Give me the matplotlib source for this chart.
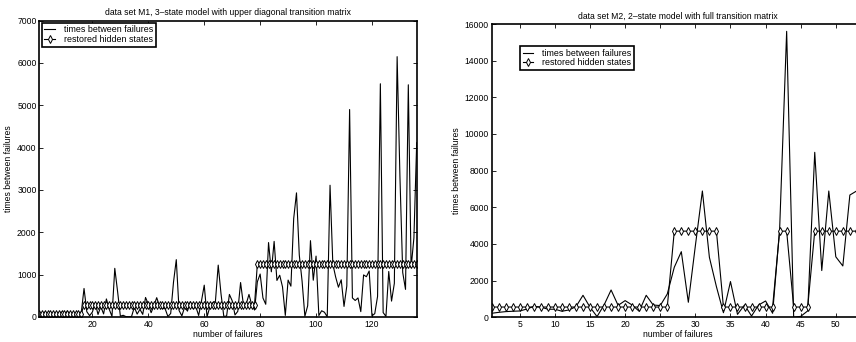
import numpy as np
import matplotlib
matplotlib.use("Agg")
import matplotlib.pyplot as plt
from matplotlib.ticker import FixedLocator

plt.rcParams['font.family'] = ['Liberation Sans', 'DejaVu Sans']

# Data set M1: times between failures and the restored hidden-state levels
m1_times = [3, 30, 113, 81, 115, 9, 2, 91, 112, 15, 138, 50, 77, 24, 108, 88,
            670, 120, 26, 114, 325, 55, 242, 68, 422, 180, 10, 1146, 600, 15,
            36, 4, 0, 8, 227, 65, 176, 58, 457, 300, 97, 263, 452, 255, 197,
            193, 6, 79, 816, 1351, 148, 21, 233, 134, 357, 193, 236, 31, 369,
            748, 0, 232, 330, 365, 1222, 543, 10, 16, 529, 379, 44, 129, 810,
            290, 300, 529, 281, 160, 828, 1011, 445, 296, 1755, 1064, 1783,
            860, 983, 707, 33, 868, 724, 2323, 2930, 1461, 843, 12, 261, 1800,
            865, 1435, 30, 143, 108, 0, 3110, 1247, 943, 700, 875, 245, 729,
            4900, 447, 386, 446, 122, 990, 948, 1082, 22, 75, 482, 5509, 100,
            10, 1071, 371, 790, 6150, 3321, 1045, 648, 5485, 1160, 1864, 4116]
m1_state_levels = [66, 290, 1250]
m1_state_lengths = [16, 62, 58]

# Data set M2: times between failures and the restored hidden-state levels
m2_times = [220, 270, 310, 330, 345, 450, 600, 560, 440, 440, 330, 400, 580,
            1200, 550, 40, 670, 1490, 650, 910, 670, 330, 1200, 670, 640,
            1270, 2730, 3580, 820, 3900, 6890, 3270, 1670, 250, 1950, 160,
            670, 70, 670, 890, 220, 4800, 15600, 0, 50, 350, 9000, 2550, 6890,
            3300, 2800, 6670, 6900]
m2_state_levels = [560, 4700, 560, 4700, 560, 4700]
m2_state_lengths = [26, 7, 8, 2, 3, 7]

m1_states = np.repeat(m1_state_levels, m1_state_lengths)
m2_states = np.repeat(m2_state_levels, m2_state_lengths)
m1_x = np.arange(1, len(m1_times) + 1)
m2_x = np.arange(1, len(m2_times) + 1)

W, H = 856, 342
fig = plt.figure(figsize=(W / 100, H / 100), dpi=100)

ax1 = fig.add_axes([39.3 / W, 1 - 316.8 / H, 377.4 / W, 296.1 / H])
ax2 = fig.add_axes([491.7 / W, 1 - 317.3 / H, 372.2 / W, 293.3 / H])

FS = 6.2
LFS = 6.4


def style(ax):
    ax.tick_params(direction='in', length=2.8, width=0.6, top=True,
                   right=True, labelsize=FS, pad=2)
    for s in ax.spines.values():
        s.set_linewidth(1.2)


def draw(ax, x, times, states, title, xlim, ylim, xticks, yticks, legend_anchor):
    ax.plot(x, times, color='black', lw=0.8, label='times between failures')
    ax.plot(x, states, color='black', lw=0.8, marker='d', ms=4.2,
            mfc='white', mec='black', mew=0.7,
            label='restored hidden states')
    ax.set_xlim(*xlim)
    ax.set_ylim(*ylim)
    ax.xaxis.set_major_locator(FixedLocator(xticks))
    ax.yaxis.set_major_locator(FixedLocator(yticks))
    ax.set_title(title, fontsize=FS, pad=4)
    ax.set_xlabel('number of failures', fontsize=FS, labelpad=1)
    ax.set_ylabel('times between failures', fontsize=FS, labelpad=3)
    style(ax)
    leg = ax.legend(loc='upper left', bbox_to_anchor=legend_anchor,
                    fontsize=LFS, frameon=True, fancybox=False,
                    borderpad=0.3, labelspacing=0.05, handlelength=1.2,
                    handletextpad=1.0, borderaxespad=0, numpoints=1)
    fr = leg.get_frame()
    fr.set_edgecolor('black')
    fr.set_linewidth(1.2)
    fr.set_alpha(1)


draw(ax1, m1_x, m1_times, m1_states,
     'data set M1, 3\u2013state model with upper diagonal transition matrix',
     (1, 136), (0, 7000), [20, 40, 60, 80, 100, 120],
     list(range(0, 7001, 1000)), (0.006, 0.993))

draw(ax2, m2_x, m2_times, m2_states,
     'data set M2, 2\u2013state model with full transition matrix',
     (1, 54), (0, 16000), list(range(5, 51, 5)),
     list(range(0, 16001, 2000)), (0.076, 0.925))

fig.savefig('out.png', dpi=100)
